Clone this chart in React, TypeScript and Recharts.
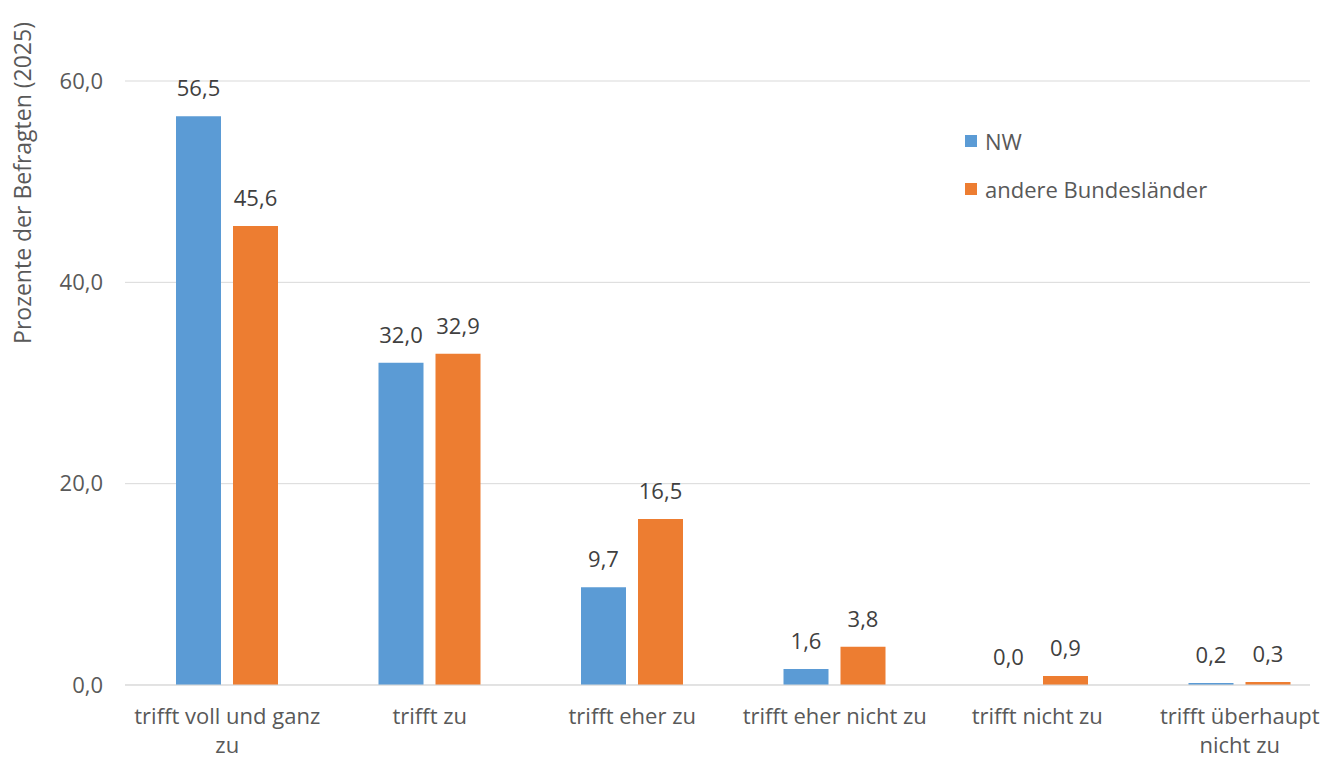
import React from "react";
import { BarChart, Bar, XAxis, YAxis, CartesianGrid, LabelList, Label } from "recharts";

const categories = [
  "trifft voll und ganz zu",
  "trifft zu",
  "trifft eher zu",
  "trifft eher nicht zu",
  "trifft nicht zu",
  "trifft überhaupt nicht zu",
];
const nwValues = [56.5, 32.0, 9.7, 1.6, 0.0, 0.2];
const otherValues = [45.6, 32.9, 16.5, 3.8, 0.9, 0.3];
const yTicks = [0, 20, 40, 60];
const seriesNames = ["NW", "andere Bundesländer"];
const colors = ["#5B9BD5", "#ED7D31"];

// tick labels that wrap onto two lines in the original
const tickLines: Record<string, string[]> = {
  "trifft voll und ganz zu": ["trifft voll und ganz", "zu"],
  "trifft überhaupt nicht zu": ["trifft überhaupt", "nicht zu"],
};

const data = categories.map((c, i) => ({ name: c, nw: nwValues[i], other: otherValues[i] }));

const FONT = "'Open Sans', sans-serif";
const TEXT = "#595959";
const FS = 22;

const fmt = (v: number) => v.toFixed(1).replace(".", ",");

function XTick(props: any) {
  const { x, y, payload } = props;
  const lines = tickLines[payload.value] || [payload.value];
  return (
    <g transform={`translate(${x},${y})`}>
      {lines.map((l, i) => (
        <text key={i} x={0} y={i * 29} dy={31} textAnchor="middle" fill={TEXT} fontSize={FS} fontFamily={FONT}>
          {l}
        </text>
      ))}
    </g>
  );
}

function LegendBox() {
  return (
    <div
      style={{
        position: "absolute",
        left: 965,
        top: 128,
        fontFamily: FONT,
        fontSize: FS,
        color: TEXT,
      }}
    >
      {seriesNames.map((n, i) => (
        <div key={n} style={{ display: "flex", alignItems: "center", height: 26, marginBottom: 22 }}>
          <span style={{ display: "inline-block", width: 12, height: 12, background: colors[i], marginRight: 8 }} />
          {n}
        </div>
      ))}
    </div>
  );
}

function YTitle() {
  return (
    <text
      x={0}
      y={0}
      transform="translate(31,183) rotate(-90)"
      textAnchor="middle"
      fill={TEXT}
      fontSize={23}
      fontFamily={FONT}
    >
      Prozente der Befragten (2025)
    </text>
  );
}

// bar labels, drawn also for zero-height bars
function ValueLabel(props: any) {
  const { x, y, width, value } = props;
  if (value == null) return null;
  return (
    <text x={Number(x) + Number(width) / 2} y={Number(y) - 20} textAnchor="middle" fill="#404040" fontSize={FS} fontFamily={FONT}>
      {fmt(Number(value))}
    </text>
  );
}

export default function App() {
  return (
    <div style={{ position: "absolute", left: 0, top: 0, width: 1330, height: 760, background: "#fff" }}>
      <BarChart
        width={1330}
        height={760}
        data={data}
        margin={{ top: 81, right: 20, left: 0, bottom: 45 }}
        barGap={12}
        barSize={45}
      >
        <CartesianGrid vertical={false} stroke="#D9D9D9" />
        <XAxis
          dataKey="name"
          interval={0}
          tick={<XTick />}
          tickLine={false}
          axisLine={{ stroke: "#D9D9D9" }}
          padding={{ left: 1, right: -31 }}
        />
        <YAxis
          width={125}
          domain={[0, 60]}
          ticks={yTicks}
          tickFormatter={fmt}
          axisLine={false}
          tickLine={false}
          tickSize={0}
          tickMargin={22}
          tick={{ fill: TEXT, fontSize: FS, fontFamily: FONT }}
        >
          <Label content={<YTitle />} />
        </YAxis>
        <Bar dataKey="nw" name={seriesNames[0]} fill={colors[0]} isAnimationActive={false} minPointSize={0.001}>
          <LabelList dataKey="nw" content={<ValueLabel />} />
        </Bar>
        <Bar dataKey="other" name={seriesNames[1]} fill={colors[1]} isAnimationActive={false}>
          <LabelList dataKey="other" content={<ValueLabel />} />
        </Bar>
      </BarChart>
      <LegendBox />
    </div>
  );
}
